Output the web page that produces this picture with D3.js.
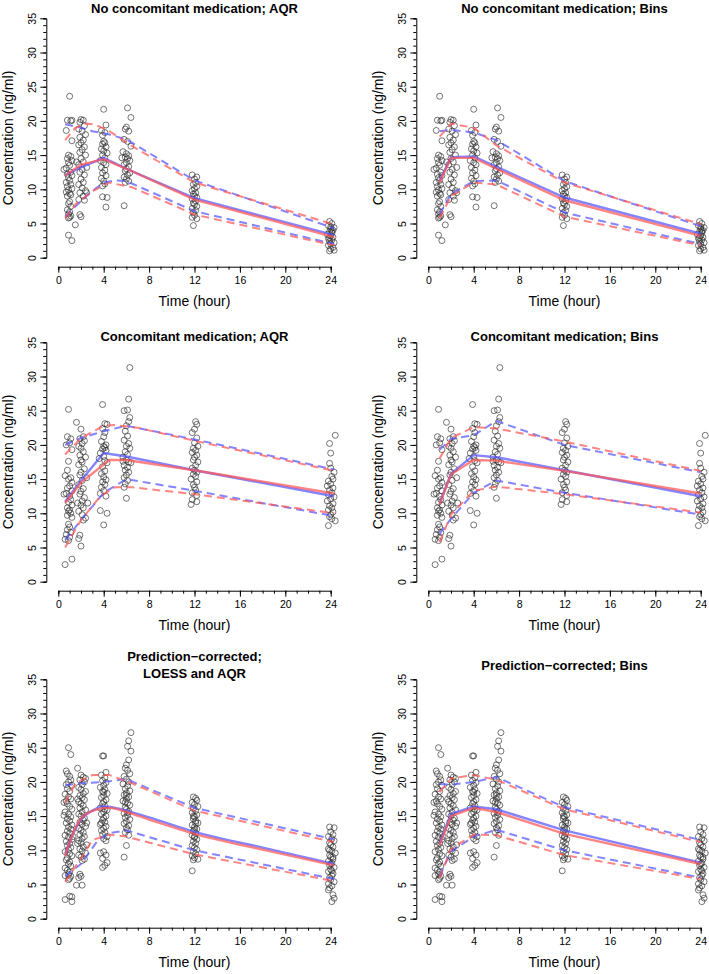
<!DOCTYPE html>
<html><head><meta charset="utf-8">
<script src="https://cdn.jsdelivr.net/npm/d3@7"></script>
<style>body{margin:0;background:#fff}svg{display:block}text{font-family:"Liberation Sans",Arial,sans-serif}</style>
</head><body>
<svg id="c" width="709" height="974"></svg>
<script>
// ---------- tick labels ----------
const timeTicks = [0, 4, 8, 12, 16, 20, 24];
const concTicks = [0, 5, 10, 15, 20, 25, 30, 35];
const titles = [
  ["No concomitant medication; AQR"], ["No concomitant medication; Bins"],
  ["Concomitant medication; AQR"], ["Concomitant medication; Bins"],
  ["Prediction\u2212corrected;", "LOESS and AQR"], ["Prediction\u2212corrected; Bins"]
];
const xLabel = "Time (hour)";
const yLabel = "Concentration (ng/ml)";

// ---------- observations [time, conc] ----------
const obsNoCM = [
[1.0,23.6],[0.8,20.1],[1.1,20.0],[1.2,20.1],[0.7,18.6],[1.2,17.1],[0.9,15.0],[1.1,14.8],[0.8,14.5],[1.2,14.2],[0.9,13.9],[1.0,13.5],[0.7,13.1],[0.5,12.9],[1.1,12.5],[0.8,12.2],[1.2,12.0],[0.9,11.7],[1.0,11.3],[0.7,11.0],[1.1,10.7],[0.8,10.4],[1.2,10.1],[0.9,9.9],[0.7,9.6],[1.0,9.4],[1.1,9.2],[0.8,9.0],[1.0,8.2],[0.9,7.9],[1.1,7.5],[0.8,7.0],[1.0,6.7],[0.9,6.4],[1.1,6.1],[1.0,5.9],[0.9,5.8],[1.5,4.8],[0.9,3.3],[1.2,2.5],
[2.0,20.2],[2.2,20.1],[1.9,19.8],[2.3,19.3],[1.8,18.8],[2.1,18.5],[2.4,18.0],[1.9,17.6],[2.2,17.2],[2.0,16.8],[1.8,16.5],[2.3,16.2],[2.1,15.8],[1.9,15.4],[2.4,15.0],[2.0,14.5],[2.2,14.0],[1.8,13.6],[2.5,13.2],[2.1,12.9],[1.9,12.5],[2.3,12.1],[2.0,11.5],[2.2,11.0],[1.8,10.7],[2.1,10.2],[2.4,9.8],[1.9,9.5],[2.2,9.0],[1.8,8.5],[2.3,8.4],[1.9,6.3],[2.0,6.0],[1.6,14.0],[2.5,9.5],
[4.0,21.7],[4.2,19.4],[3.8,18.6],[4.1,18.3],[3.9,17.9],[4.0,17.0],[4.1,16.8],[3.9,16.6],[4.2,16.2],[3.8,15.9],[4.0,15.6],[4.3,15.3],[3.9,15.0],[4.1,14.6],[3.7,14.2],[4.0,13.9],[4.2,13.6],[3.8,13.2],[4.1,12.8],[3.9,12.4],[4.2,12.0],[3.8,11.6],[4.0,11.2],[4.1,10.8],[3.9,10.5],[3.9,8.9],[4.3,8.8],[4.2,7.4],
[6.1,21.9],[6.4,20.5],[6.0,19.1],[5.9,18.8],[6.2,18.5],[5.8,17.3],[6.1,17.0],[6.4,16.3],[5.7,15.5],[6.0,15.2],[6.2,14.9],[5.9,14.7],[6.1,14.5],[5.6,14.6],[6.3,14.2],[6.0,13.9],[5.8,13.6],[6.2,13.3],[6.0,13.0],[5.9,12.7],[6.3,12.4],[6.1,12.1],[5.8,11.8],[6.0,11.5],[6.2,11.2],[5.9,11.0],[5.8,7.6],
[11.8,12.1],[12.2,11.8],[12.0,11.5],[12.1,11.0],[11.9,10.7],[12.2,10.4],[12.0,10.1],[11.8,9.8],[12.1,9.5],[11.9,9.3],[12.0,9.0],[12.2,8.8],[11.8,8.6],[12.1,8.3],[11.9,8.0],[12.0,7.8],[12.2,7.5],[11.8,7.2],[12.1,6.9],[11.9,6.6],[12.0,6.2],[11.8,5.9],[12.2,5.7],[11.9,4.7],
[23.9,5.3],[24.1,5.0],[23.8,4.7],[24.3,4.4],[24.0,4.2],[24.2,4.0],[23.9,3.8],[24.1,3.6],[23.7,3.4],[24.0,3.2],[24.2,3.0],[23.8,2.8],[24.1,2.6],[23.9,2.4],[24.3,2.2],[24.0,2.0],[23.8,1.8],[24.2,1.5],[24.0,1.3],[24.3,1.1],[23.9,1.0],[24.1,3.9],[24.0,4.5],[23.9,2.9]
];
const obsCM = [
[0.9,25.2],[0.8,21.2],[1.1,20.9],[1.0,20.3],[0.7,20.0],[1.2,19.3],[0.9,17.6],[0.8,16.3],[0.6,15.5],[1.1,15.2],[0.9,15.0],[1.2,14.5],[1.0,14.0],[0.8,13.7],[1.2,13.3],[0.7,12.9],[0.5,12.8],[1.0,12.5],[1.1,12.0],[0.9,11.6],[1.2,11.2],[0.8,10.8],[1.0,10.5],[0.9,10.3],[1.1,10.0],[0.8,9.7],[1.2,9.4],[0.9,8.4],[1.0,8.0],[0.8,7.6],[1.1,7.2],[0.7,6.9],[1.0,6.5],[0.6,6.2],[0.9,6.0],[1.2,3.3],[0.6,2.5],
[1.6,23.3],[2.0,22.3],[2.2,21.2],[1.9,20.9],[2.3,20.6],[2.1,20.2],[1.8,19.8],[2.0,19.5],[2.2,19.0],[1.9,18.5],[2.4,18.2],[2.0,17.8],[2.1,17.5],[1.8,17.1],[2.3,16.5],[2.0,16.0],[1.9,15.6],[2.5,15.2],[2.1,14.8],[1.8,14.2],[2.2,13.6],[2.0,13.2],[1.9,12.8],[2.3,12.3],[2.1,11.8],[1.7,11.5],[2.6,11.5],[2.0,11.2],[2.2,10.8],[1.8,10.3],[2.1,9.8],[2.4,9.3],[2.2,9.0],[1.9,6.8],[1.8,6.3],[2.0,5.2],
[3.9,25.9],[4.1,23.1],[4.3,23.0],[3.9,22.4],[4.1,21.8],[4.0,21.2],[3.8,20.5],[4.2,20.0],[4.0,19.8],[4.1,19.6],[3.9,19.4],[4.2,19.2],[3.7,18.8],[4.0,18.3],[3.6,18.0],[4.1,17.7],[4.3,17.4],[3.9,16.8],[4.1,16.2],[3.8,15.8],[4.0,15.3],[4.2,14.9],[3.9,14.6],[4.1,14.2],[3.8,13.8],[4.0,13.3],[3.7,12.9],[4.2,12.5],[3.7,10.4],[4.3,10.0],[4.0,8.3],
[6.3,31.3],[6.2,26.7],[6.1,25.1],[5.8,25.0],[6.3,24.0],[6.2,23.4],[6.0,22.8],[5.9,22.0],[6.1,21.3],[5.8,20.7],[6.2,20.2],[6.0,19.8],[6.3,19.5],[5.9,19.0],[6.1,18.6],[5.7,18.2],[6.0,17.8],[6.2,17.5],[5.8,17.0],[6.1,16.7],[5.9,16.3],[6.2,16.0],[6.0,15.6],[5.8,15.2],[6.1,14.8],[5.9,14.3],[5.8,13.8],[6.0,12.2],[5.7,17.6],[6.4,17.4],
[12.1,23.4],[12.2,23.0],[12.0,22.3],[11.8,21.8],[12.2,21.0],[12.0,20.3],[12.3,19.8],[11.9,19.5],[12.1,19.2],[11.8,18.9],[12.2,18.5],[12.0,18.2],[11.9,17.8],[12.3,17.5],[12.1,17.0],[11.8,16.6],[12.0,16.3],[12.2,16.0],[11.9,15.7],[12.1,15.4],[11.7,15.0],[12.2,14.6],[11.9,14.2],[12.0,13.8],[12.1,13.4],[11.8,13.0],[12.2,12.6],[11.8,12.0],[12.2,11.7],[11.7,11.3],
[24.4,21.4],[23.9,20.2],[24.0,18.8],[23.9,17.3],[24.0,16.6],[24.3,16.0],[24.1,15.4],[24.2,15.0],[23.8,14.7],[24.0,14.3],[23.7,14.0],[24.2,13.7],[23.9,13.4],[24.1,13.0],[23.8,12.7],[24.3,12.4],[24.0,12.1],[23.7,11.8],[24.2,11.4],[23.9,11.1],[24.1,10.8],[23.8,10.5],[24.2,10.2],[24.0,9.8],[23.9,9.5],[24.1,9.2],[24.4,8.9],[23.8,8.2]
];
const obsPC = [
[0.9,25.0],[1.1,24.0],[1.7,22.0],[0.7,21.6],[0.8,21.2],[1.0,20.8],[1.1,20.3],[0.9,20.0],[0.7,19.6],[1.2,19.5],[0.8,19.0],[1.0,18.6],[0.6,18.2],[0.9,17.8],[1.1,17.5],[0.7,17.2],[0.8,16.8],[1.0,16.4],[1.2,16.0],[0.6,15.6],[0.9,15.3],[0.5,15.1],[1.1,14.9],[0.8,14.6],[1.0,14.3],[0.7,14.0],[1.2,13.7],[0.9,13.4],[1.1,13.1],[0.8,12.8],[1.0,12.5],[0.6,12.2],[0.9,11.9],[1.2,11.6],[0.7,11.3],[1.0,11.0],[0.8,10.7],[1.1,10.4],[0.9,10.1],[0.6,9.8],[1.0,9.5],[1.2,9.2],[0.8,8.9],[0.7,8.6],[1.0,8.3],[0.9,8.0],[1.1,7.7],[0.6,7.4],[0.8,7.1],[1.0,6.8],[0.9,6.5],[1.1,6.2],[1.0,5.9],[0.9,5.7],[1.6,4.9],[1.0,3.3],[1.2,3.2],[0.6,2.8],[1.2,2.5],[0.5,17.0],[1.3,12.0],[0.6,6.3],
[2.0,21.0],[2.2,20.7],[1.9,20.3],[2.3,20.0],[2.1,19.6],[1.8,19.2],[2.0,18.9],[2.4,18.6],[2.2,18.3],[1.9,18.0],[2.1,17.7],[2.3,17.4],[1.8,17.1],[2.0,16.8],[2.2,16.5],[1.9,16.2],[2.4,15.9],[2.1,15.6],[1.8,15.3],[2.0,15.0],[2.3,14.7],[2.2,14.4],[1.9,14.1],[2.1,13.8],[2.4,13.5],[1.8,13.2],[2.0,12.9],[2.2,12.6],[1.9,12.3],[2.3,12.0],[2.1,11.7],[1.8,11.4],[2.0,11.1],[2.5,10.8],[2.2,10.5],[1.9,10.2],[2.1,9.9],[2.4,9.6],[1.8,9.3],[2.0,9.0],[2.3,8.7],[2.1,8.5],[1.9,6.5],[2.0,6.2],[1.8,6.0],[2.1,4.9],[2.4,20.5],[1.7,17.5],[2.5,14.0],[1.7,11.0],
[3.9,23.8],[4.0,23.8],[4.2,21.4],[3.8,21.0],[4.1,20.6],[3.9,20.2],[4.2,19.9],[4.0,19.5],[3.7,19.2],[4.1,18.9],[3.9,18.6],[4.3,18.3],[4.0,18.0],[3.8,17.7],[4.2,17.4],[4.0,17.1],[3.9,16.8],[4.1,16.5],[3.7,16.2],[4.3,15.9],[4.0,15.6],[3.8,15.3],[4.2,15.0],[4.0,14.7],[3.9,14.4],[4.1,14.1],[3.7,13.8],[4.2,13.5],[4.0,13.2],[3.8,12.9],[4.1,12.6],[3.9,12.3],[4.3,12.0],[4.0,11.7],[4.2,11.4],[3.7,9.6],[4.0,9.8],[4.2,9.3],[3.9,8.8],[4.3,8.2],[4.1,7.8],[3.9,7.5],[4.0,18.5],[4.1,16.0],[3.8,14.0],
[6.4,27.2],[6.2,26.0],[6.1,25.2],[6.4,24.5],[6.2,23.2],[6.0,22.5],[5.9,22.0],[6.1,21.7],[6.3,21.2],[5.8,20.8],[6.0,20.4],[6.2,20.0],[5.7,19.7],[6.1,19.4],[5.9,19.0],[6.3,18.7],[6.0,18.4],[5.8,18.1],[6.2,17.8],[6.0,17.5],[5.7,17.2],[6.1,16.9],[6.3,16.6],[5.9,16.3],[6.0,16.0],[6.2,15.7],[5.8,15.4],[6.1,15.1],[5.9,14.8],[6.3,14.5],[6.0,14.2],[5.8,13.9],[6.2,13.6],[6.0,13.3],[6.1,13.0],[5.9,12.6],[6.2,12.2],[6.0,10.7],[5.8,9.0],[6.0,18.0],[6.1,15.5],[5.9,17.0],
[11.9,17.8],[12.1,17.6],[12.2,17.3],[11.8,17.0],[12.0,16.7],[12.3,16.4],[11.9,16.1],[12.1,15.8],[11.8,15.5],[12.2,15.2],[12.0,14.9],[11.9,14.6],[12.1,14.3],[12.3,14.0],[11.8,13.7],[12.0,13.4],[12.2,13.1],[11.9,12.8],[12.1,12.5],[11.8,12.2],[12.0,11.9],[12.2,11.6],[11.9,11.3],[12.1,11.0],[11.8,10.7],[12.0,10.4],[12.2,10.1],[11.9,9.8],[12.1,9.5],[11.8,9.2],[12.0,8.9],[12.3,8.7],[11.9,8.6],[11.8,7.0],[12.0,13.0],[12.1,14.0],[11.9,15.0],[12.0,12.0],
[23.9,13.4],[24.3,13.3],[24.0,12.7],[24.2,12.3],[23.8,12.0],[24.1,11.7],[24.3,11.4],[23.9,11.1],[24.0,10.8],[24.2,10.5],[23.8,10.2],[24.1,9.9],[24.4,9.6],[23.9,9.3],[24.0,9.0],[24.2,8.7],[23.8,8.4],[24.1,8.1],[23.9,7.8],[24.3,7.5],[24.0,7.2],[23.8,6.9],[24.2,6.6],[24.1,6.3],[23.9,6.0],[24.0,5.7],[24.3,5.4],[23.8,5.1],[24.1,4.8],[23.9,4.5],[23.8,4.2],[24.2,3.5],[24.3,3.0],[24.1,2.5],[24.0,8.0],[24.1,7.0],[23.9,10.0],[24.2,9.0]
];

// ---------- percentile lines [time, conc]: blue = simulated, red = observed ----------
// Panel 1: No CM, AQR
const p1BlueMed = [[0.6,12.1],[2,13.2],[4,14.6],[6,13.0],[12,8.7],[24.3,3.3]];
const p1RedMed  = [[0.6,12.0],[2,13.6],[4,14.4],[6,13.0],[12,8.5],[24.3,3.0]];
const p1BlueHi  = [[0.6,19.5],[2,19.0],[3,18.5],[4.5,18.0],[6,17.3],[12,11.3],[24.3,4.3]];
const p1RedHi   = [[0.6,17.2],[1.5,19.0],[2.5,19.6],[3.2,19.5],[4.5,18.5],[6.5,16.3],[12,11.0],[24.4,4.8]];
const p1BlueLo  = [[0.6,6.0],[1.5,7.5],[2.8,9.5],[4,11.0],[5,11.3],[6,11.2],[12,6.8],[24.3,2.0]];
const p1RedLo   = [[0.6,5.8],[1.5,7.8],[3,9.7],[4.5,11.0],[5,10.8],[6.5,10.3],[12,6.3],[24.3,1.8]];
// Panel 2: No CM, Bins
const p2BlueMed = [[1,11.3],[2,14.7],[4,14.8],[6,13.3],[12,8.8],[24,3.5]];
const p2RedMed  = [[1,11.0],[2,14.6],[4,14.6],[6,13.0],[12,8.4],[24,3.2]];
const p2BlueHi  = [[1,18.5],[2,18.7],[4,18.3],[6,17.2],[12,11.2],[24,4.6]];
const p2RedHi   = [[1,17.7],[2,19.6],[4,19.0],[6,16.4],[12,11.0],[24,4.9]];
const p2BlueLo  = [[1,6.3],[2,9.3],[4,11.2],[6,11.3],[12,6.6],[24,2.0]];
const p2RedLo   = [[1,5.8],[2,9.0],[4,11.0],[6,10.7],[12,6.0],[24,1.8]];
// Panel 3: CM, AQR
const p3BlueMed = [[0.6,11.7],[2,14.8],[4,18.8],[6,18.3],[12,16.3],[24.3,12.5]];
const p3RedMed  = [[0.6,11.5],[2,14.5],[4.5,17.8],[6,17.8],[12,16.3],[24.3,12.9]];
const p3BlueHi  = [[0.6,20.0],[2,21.0],[4,22.0],[6,22.8],[12,20.8],[24.3,16.4]];
const p3RedHi   = [[0.6,18.6],[2,21.0],[4,22.8],[5,22.9],[7,22.5],[12,20.6],[24.3,16.2]];
const p3BlueLo  = [[0.6,6.1],[2,9.0],[4,13.0],[6,15.0],[12,13.3],[24.3,9.6]];
const p3RedLo   = [[0.6,5.0],[2,9.0],[3.7,12.5],[5,13.8],[6.5,13.8],[12,12.8],[24.3,10.0]];
// Panel 4: CM, Bins
const p4BlueMed = [[1,11.5],[2,15.8],[4,18.5],[6,18.2],[12,16.3],[24,12.5]];
const p4RedMed  = [[1,11.3],[2,15.7],[4,17.8],[6,17.7],[12,16.2],[24,12.9]];
const p4BlueHi  = [[1,19.3],[2,20.9],[4,21.4],[6,23.5],[12,20.0],[24,16.0]];
const p4RedHi   = [[1,18.0],[2,21.0],[4,22.6],[6,22.4],[12,20.5],[24,16.2]];
const p4BlueLo  = [[1,7.0],[2,9.2],[4,13.0],[6,14.8],[12,13.0],[24,9.8]];
const p4RedLo   = [[1,5.8],[2,9.8],[4,13.3],[6,13.9],[12,12.8],[24,10.1]];
// Panel 5: PC, LOESS and AQR
const p5BlueMed = [[0.6,9.5],[1.2,12.0],[2,14.5],[3,15.8],[4,16.4],[5,16.2],[6,15.8],[8,14.8],[12,12.7],[18,10.4],[24.3,8.0]];
const p5RedMed  = [[0.6,9.2],[1.3,12.5],[2.2,15.0],[3.5,16.0],[4.5,16.2],[6,15.6],[8,14.5],[12,12.4],[18,10.1],[24.3,7.8]];
const p5BlueHi  = [[0.6,19.5],[2,19.8],[4,20.0],[6,20.4],[12,16.2],[24.3,11.6]];
const p5RedHi   = [[0.6,17.0],[1.5,19.8],[3,21.0],[4.5,21.0],[6.5,19.8],[12,15.8],[24.3,11.2]];
const p5BlueLo  = [[0.6,6.2],[2,8.0],[3.5,11.5],[4.5,12.5],[6,12.9],[12,10.0],[24.3,5.8]];
const p5RedLo   = [[0.6,5.4],[2,8.8],[3,11.5],[4.5,12.3],[6,12.0],[12,9.4],[24.3,5.5]];
// Panel 6: PC, Bins
const p6BlueMed = [[1,11.0],[2,15.3],[4,16.4],[6,16.0],[12,12.9],[24,8.2]];
const p6RedMed  = [[1,10.8],[2,15.0],[4,16.2],[6,15.6],[12,12.4],[24,8.0]];
const p6BlueHi  = [[1,19.7],[2,19.6],[4,20.0],[6,20.7],[12,16.3],[24,11.5]];
const p6RedHi   = [[1,18.5],[2,20.5],[4,21.0],[6,20.3],[12,16.0],[24,11.2]];
const p6BlueLo  = [[1,6.3],[2,9.8],[4,12.0],[6,13.0],[12,10.0],[24,6.0]];
const p6RedLo   = [[1,6.0],[2,10.2],[4,12.3],[6,12.2],[12,9.3],[24,5.8]];

const panels = [
  {obs: obsNoCM, lines: [p1BlueHi,p1BlueLo,p1BlueMed,p1RedHi,p1RedLo,p1RedMed]},
  {obs: obsNoCM, lines: [p2BlueHi,p2BlueLo,p2BlueMed,p2RedHi,p2RedLo,p2RedMed]},
  {obs: obsCM,   lines: [p3BlueHi,p3BlueLo,p3BlueMed,p3RedHi,p3RedLo,p3RedMed]},
  {obs: obsCM,   lines: [p4BlueHi,p4BlueLo,p4BlueMed,p4RedHi,p4RedLo,p4RedMed]},
  {obs: obsPC,   lines: [p5BlueHi,p5BlueLo,p5BlueMed,p5RedHi,p5RedLo,p5RedMed]},
  {obs: obsPC,   lines: [p6BlueHi,p6BlueLo,p6BlueMed,p6RedHi,p6RedLo,p6RedMed]}
];

// ---------- layout ----------
const colX0 = [58.3, 428.3];
const rowTop = [18.3, 342.3, 679.3];
const plotW = 272.4, plotH = 239.4;
const titleY = [[8.5], [8.5], [336], [336], [656.5, 673], [665]];
const BLUE = "rgba(85,85,255,0.72)", RED = "rgba(255,85,85,0.72)";

const svg = d3.select("#c");

panels.forEach((p, i) => {
  const col = i % 2, row = Math.floor(i / 2);
  const x0 = colX0[col], yTop = rowTop[row];
  const x = d3.scaleLinear().domain([0, 24]).range([x0, x0 + plotW]);
  const y = d3.scaleLinear().domain([0, 35]).range([yTop + plotH, yTop]);
  const g = svg.append("g");
  const yAxisX = x0 - 12, xAxisY = yTop + plotH + 9;

  // y axis: minor every 1, major every 5
  const ya = g.append("g").attr("transform", `translate(${yAxisX},0)`);
  ya.call(d3.axisLeft(y).tickValues(d3.range(0, 36, 1)).tickSize(3).tickFormat(""));
  ya.append("g").call(d3.axisLeft(y).tickValues(concTicks).tickSize(6).tickFormat(d3.format("d")));
  ya.selectAll(".domain").filter((d, k) => k > 0).remove();
  ya.selectAll(".domain").attr("stroke", "#000").attr("stroke-width", 1);
  ya.selectAll("line").attr("stroke", "#000").attr("stroke-width", 1);
  ya.selectAll(".tick text").each(function () {
    d3.select(this).attr("x", null).attr("dy", null).attr("text-anchor", "middle")
      .attr("font-size", 10.5).attr("fill", "#000")
      .attr("transform", "translate(-14,0) rotate(-90)").attr("dominant-baseline", "central");
  });

  // x axis: minor every 1, major every 4
  const xa = g.append("g").attr("transform", `translate(0,${xAxisY})`);
  xa.call(d3.axisBottom(x).tickValues(d3.range(0, 25, 1)).tickSize(3).tickFormat(""));
  xa.append("g").call(d3.axisBottom(x).tickValues(timeTicks).tickSize(6).tickFormat(d3.format("d")));
  xa.selectAll(".domain").filter((d, k) => k > 0).remove();
  xa.selectAll(".domain").attr("stroke", "#000");
  xa.selectAll("line").attr("stroke", "#000");
  xa.selectAll(".tick text").attr("font-size", 10.5).attr("fill", "#000").attr("y", 10).attr("dy", "0.71em");

  // labels
  g.append("text").attr("x", x0 + plotW / 2).attr("y", xAxisY + 34).attr("text-anchor", "middle")
    .attr("dominant-baseline", "central").attr("font-size", 14).text(xLabel);
  g.append("text").attr("transform", `translate(${yAxisX - 38.5},${yTop + plotH / 2}) rotate(-90)`)
    .attr("text-anchor", "middle").attr("dominant-baseline", "central").attr("font-size", 14).text(yLabel);
  titles[i].forEach((t, k) => {
    g.append("text").attr("x", x0 + plotW / 2).attr("y", titleY[i][k]).attr("text-anchor", "middle")
      .attr("dominant-baseline", "central").attr("font-size", 13).attr("font-weight", "bold").text(t);
  });

  // observations
  g.append("g").selectAll("circle").data(p.obs).join("circle")
    .attr("cx", d => x(d[0])).attr("cy", d => y(d[1])).attr("r", 3)
    .attr("fill", "none").attr("stroke", "rgba(40,40,40,0.8)").attr("stroke-width", 0.8);

  // percentile lines
  const styles = [
    {c: BLUE, dash: "8,5", w: 2}, {c: BLUE, dash: "8,5", w: 2}, {c: BLUE, dash: null, w: 2.4},
    {c: RED, dash: "8,5", w: 2}, {c: RED, dash: "8,5", w: 2}, {c: RED, dash: null, w: 2.4}
  ];
  p.lines.forEach((ln, k) => {
    const s = styles[k];
    const lg = d3.line().x(d => x(d[0])).y(d => y(d[1]));
    if (i === 4 && s.dash === null) lg.curve(d3.curveMonotoneX);
    g.append("path").attr("d", lg(ln)).attr("fill", "none").attr("stroke", s.c)
      .attr("stroke-width", s.w).attr("stroke-dasharray", s.dash);
  });
});
</script>
</body></html>
